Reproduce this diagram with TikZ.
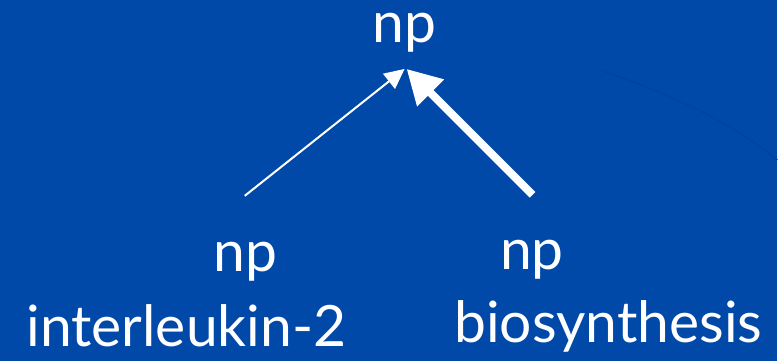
\documentclass[tikz,border=0pt]{standalone}
\usepackage{fontspec}
\setmainfont{Lato}
\usetikzlibrary{arrows.meta}
\definecolor{slideblue}{RGB}{0,73,169}
\definecolor{slideshade}{RGB}{0,67,160}
\begin{document}
\begin{tikzpicture}[x=1pt,y=-1pt,
  label/.style={text=white,font=\fontsize{57}{60}\selectfont,anchor=base,inner sep=0pt},
  weak/.style={draw=white,line width=2pt,-{Triangle[length=20pt,width=19pt]}},
  strong/.style={draw=white,line width=8pt,-{Triangle[length=34pt,width=36pt]}}]
  % slide background
  \fill[slideblue] (0,0) rectangle (778,361);
  \draw[slideshade,line width=1.5pt] (600,70) .. controls (660,90) and (730,120) .. (778,160);
  \useasboundingbox (0,0) rectangle (778,361);
  % tree labels
  \node[label,text height=31pt,text depth=12pt] (top) at (405,43) {np};
  \node[label] (lnp) at (245.5,272) {np};
  \node[label] (rnp) at (532.5,270) {np};
  \node[label] (lword) at (186.5,347) {interleukin-2};
  \node[label] (rword) at (609,343) {biosynthesis};
  % arrow ends
  \coordinate (ltail) at (245,196);
  \coordinate (rtail) at (533,195);
  \coordinate (ltip) at (405,69);
  \coordinate (rtip) at (407,69);
  \draw[weak] (ltail) -- (ltip);
  \draw[strong] (rtail) -- (rtip);
\end{tikzpicture}
\end{document}
